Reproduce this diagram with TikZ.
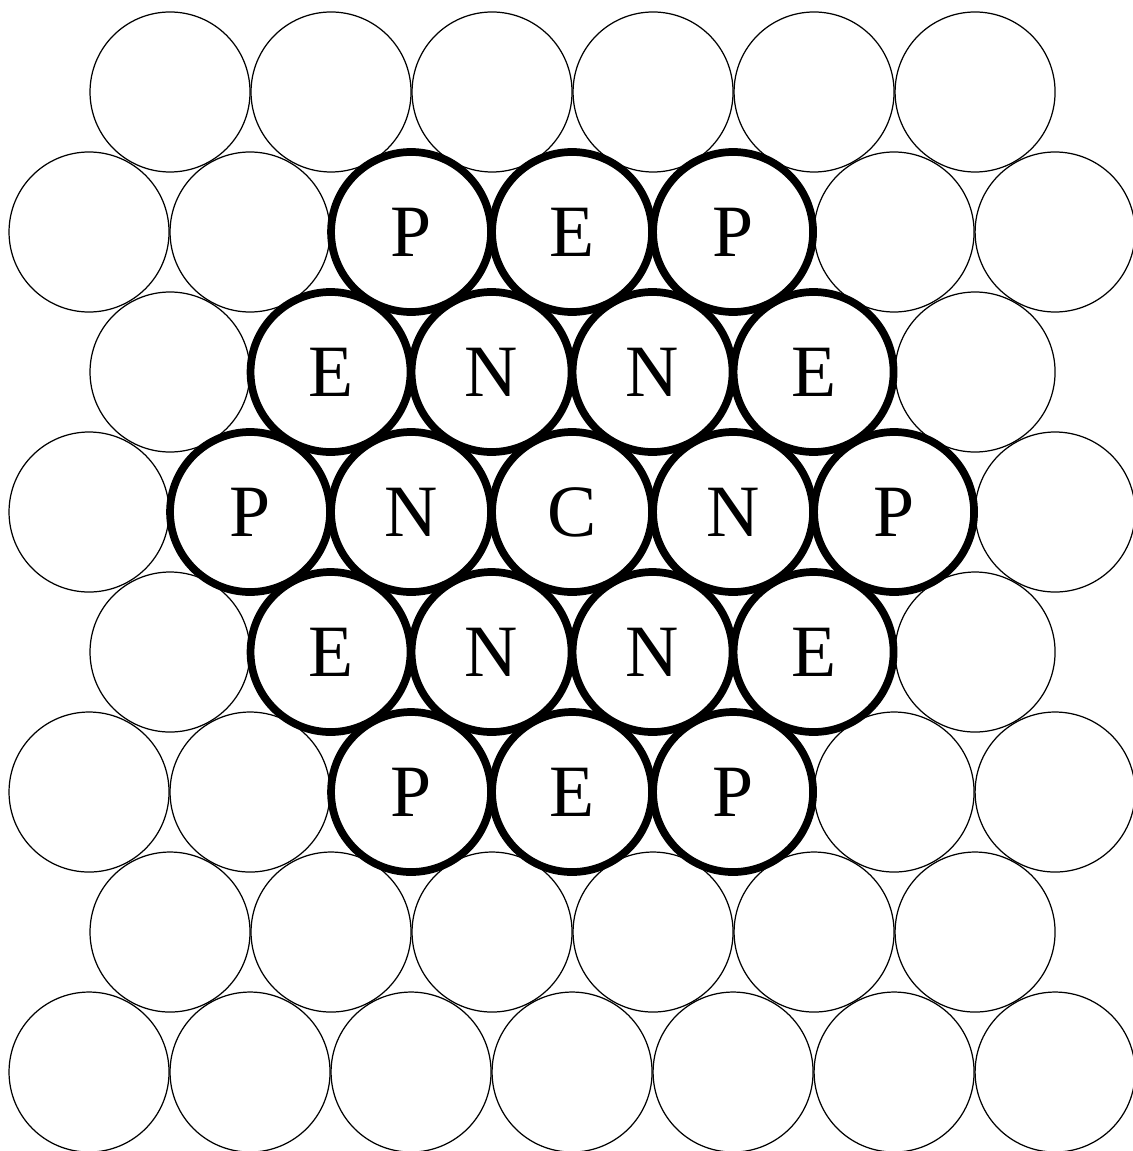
\documentclass[tikz,border=0pt]{standalone}
\usepackage{fontspec}
\setmainfont{Liberation Serif}
\usetikzlibrary{positioning}

\begin{document}
\begin{tikzpicture}[
  x=1.61cm, y=-1.40cm,
  every node/.style={font=\fontsize{21}{25}\selectfont},
  cell/.style={draw=black, line width=0.35pt},
  core/.style={circle, draw=black, line width=2.2pt, fill=white,
     minimum size=16mm, inner sep=0pt},
]
\useasboundingbox (0,0) rectangle (7.031,8.221);
% --- columns / rows ---
\def\xe{1.056} % first column, even rows
\def\xo{0.553} % first column, odd rows
\def\ytop{0.657}
\def\xc{3.553} \def\yc{3.657}
% background packing
\foreach \r in {0,2,4,6}
  \foreach \k in {0,...,5}
    \draw[cell] (\xe+\k,\ytop+\r) circle[radius=8mm];
\foreach \r in {1,3,5,7}
  \foreach \k in {0,...,6}
    \draw[cell] (\xo+\k,\ytop+\r) circle[radius=8mm];
% --- cluster ---
\node[core] (c)  at (\xc,\yc)       {C};
% first shell
\node[core] (n1) at (\xc-1,\yc)     {N};
\node[core] (n2) at (\xc+1,\yc)     {N};
\node[core] (n3) at (\xc-0.5,\yc-1) {N};
\node[core] (n4) at (\xc+0.5,\yc-1) {N};
\node[core] (n5) at (\xc-0.5,\yc+1) {N};
\node[core] (n6) at (\xc+0.5,\yc+1) {N};
% second shell, edges
\node[core] (e1) at (\xc,\yc-2)     {E};
\node[core] (e2) at (\xc,\yc+2)     {E};
\node[core] (e3) at (\xc-1.5,\yc-1) {E};
\node[core] (e4) at (\xc+1.5,\yc-1) {E};
\node[core] (e5) at (\xc-1.5,\yc+1) {E};
\node[core] (e6) at (\xc+1.5,\yc+1) {E};
% second shell, corners
\node[core] (p1) at (\xc-1,\yc-2)   {P};
\node[core] (p2) at (\xc+1,\yc-2)   {P};
\node[core] (p3) at (\xc-2,\yc)     {P};
\node[core] (p4) at (\xc+2,\yc)     {P};
\node[core] (p5) at (\xc-1,\yc+2)   {P};
\node[core] (p6) at (\xc+1,\yc+2)   {P};
\end{tikzpicture}
\end{document}
